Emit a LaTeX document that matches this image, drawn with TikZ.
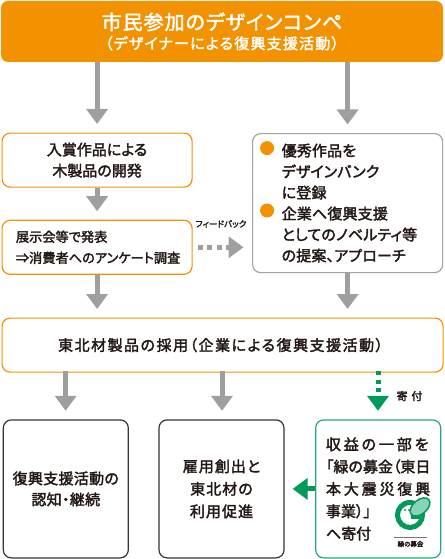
\documentclass[tikz,border=0pt]{standalone}
\usepackage{fontspec}
\setmainfont{Noto Sans CJK JP}[RawFeature=+palt, FakeBold=2.2]
\usepackage{tikz}
\usetikzlibrary{shapes.geometric, arrows.meta, positioning, calc}
\definecolor{compeorange}{HTML}{F39200}
\definecolor{arrowgray}{HTML}{9F9F9F}
\definecolor{framegray}{HTML}{A3A3A3}
\definecolor{bokingreen}{HTML}{009B5B}
\definecolor{frameink}{HTML}{3A3230}
\definecolor{inktext}{HTML}{231815}
\newcommand{\spaced}[2]{{\addfontfeature{LetterSpace=#1}#2}}

\begin{document}
\begin{tikzpicture}[
        x=1pt, y=-1pt,
        every node/.style={text=inktext, inner sep=0pt},
        textbody/.style={font=\fontsize{15}{21}\selectfont, align=center},
        box/.style={
            draw=compeorange,
            line width=1.2pt,
            rounded corners=8pt,
            fill=white,
            textbody
        },
        arrow/.style={
            -{Triangle[width=21pt, length=15pt]},
            line width=5pt,
            draw=arrowgray,
            shorten >=8.5pt
        },
        dotarrow/.style={arrow, dash pattern=on 5pt off 4.5pt},
        greenarrow/.style={arrow, draw=bokingreen}
    ]

        \useasboundingbox (0,0) rectangle (444,559);

        \node[fill=compeorange, rounded corners=7pt, minimum width=442pt, minimum height=61pt,
              text=white, align=center] (compe) at (222,31.5)
              {{\fontsize{20}{26}\selectfont\spaced{5}{市民参加のデザインコンペ}}\\[4pt]
               {\fontsize{15}{19}\selectfont\spaced{8}{（デザイナーによる復興支援活動）}}};

        \node[box, minimum width=190pt, minimum height=54pt, anchor=north west] (wood) at (1.5,132.5)
              {入賞作品による\\木製品の開発};

        \node[box, minimum width=190pt, minimum height=54pt, below=32pt of wood, align=left,
              font=\fontsize{13.2}{21}\selectfont] (exhibit)
              {\hspace*{2pt}展示会等で発表\\\hspace*{2pt}⇒消費者へのアンケート調査};

        \node[box, draw=framegray, minimum width=190pt, anchor=north west, minimum height=139pt] (bank) at (252,133) {};

        \node[textbody, align=left, anchor=west] (banktext) at ($(bank.west)+(29.5,0)$)
              {\spaced{1}{優秀作品を}\\\spaced{1}{デザインバンク}\\\spaced{1}{に登録}\\\spaced{1}{企業へ復興支援}\\\spaced{1}{としてのノベルティ等}\\\spaced{1}{の提案、アプローチ}};

        \node[circle, fill=compeorange, minimum size=14pt, below right=10pt and 10pt of bank.north west] (dotbank) {};
        \node[circle, fill=compeorange, minimum size=14pt, below=48pt of dotbank] (dotaid) {};

        \node[box, minimum width=441pt, minimum height=54pt, anchor=north west] (adopt) at (1.5,317.5)
              {\spaced{10}{東北材製品の採用（企業による復興支援活動）}\hspace{4pt}};

        \node[box, draw=frameink, minimum width=125pt, minimum height=138pt, anchor=north west] (keep) at (2.7,419.3)
              {\spaced{2}{復興支援活動の}\\\spaced{2}{認知・継続}};

        \node[box, draw=frameink, minimum width=125pt, minimum height=138pt, right=29.5pt of keep,
              font=\fontsize{15}{22.5}\selectfont] (jobs)
              {\spaced{7}{雇用創出と}\\\spaced{7}{東北材の}\\\spaced{7}{利用促進}};

        \node[box, draw=bokingreen!85, minimum width=125pt, minimum height=138pt, right=30.5pt of jobs, align=left,
              font=\fontsize{15}{22.3}\selectfont] (grant)
              {\spaced{19}{収益の一部を}\\「緑の募金（東日\\\spaced{19}{本大震災復興}\\事業）」\\へ寄付};

        \node[font=\fontsize{8.5}{11}\selectfont] (feedback) at (221,224) {フィードバック};
        \node[font=\fontsize{11}{13}\selectfont] (donate) at (409.5,396) {\spaced{35}{寄付}};

        \coordinate (dropone) at (65.6,371);
        \coordinate (droptwo) at (222,371);
        \coordinate (dropgreen) at (378,371);

        \draw[arrow] (compe.south -| wood.north) -- (wood.north);
        \draw[arrow] (compe.south -| bank.north) -- (bank.north);
        \draw[arrow] (wood) -- (exhibit);
        \draw[arrow] (exhibit.south) -- (exhibit.south |- adopt.north);
        \draw[arrow] (bank.south) -- (bank.south |- adopt.north);
        \draw[dotarrow, shorten <=5pt] (exhibit.east) -- (exhibit.east -| bank.west);
        \draw[arrow] (dropone) -- (dropone |- keep.north);
        \draw[arrow] (droptwo) -- (droptwo |- jobs.north);
        \draw[greenarrow, dash pattern=on 4pt off 4.5pt] (dropgreen) -- (dropgreen |- grant.north);
        \draw[greenarrow, shorten >=8pt] (grant.west) -- (jobs.east);

        % logo
        \coordinate (logo) at (410,515);
        \draw[bokingreen, line width=5pt] (logo) ++(25:12.5pt) arc[start angle=25, end angle=-300, radius=12.5pt];
        \fill[bokingreen] ($(logo)+(1,0)$) rectangle ($(logo)+(13,4)$);
        \fill[bokingreen] ($(logo)+(-5,-5)$) circle (1.1pt) ($(logo)+(-1,-5)$) circle (1.1pt);
        \node[draw=bokingreen, line width=1.5pt, fill=bokingreen!45, ellipse, rotate=40,
              minimum width=23pt, minimum height=14pt] (leaf) at ($(logo)+(10,-8)$) {};
        \draw[inktext!60, line width=0.8pt] (394,537) -- (427,537);
        \node[font=\fontsize{6.5}{8}\selectfont] (bokin) at (410.5,544) {緑の募金};

    \end{tikzpicture}
\end{document}
